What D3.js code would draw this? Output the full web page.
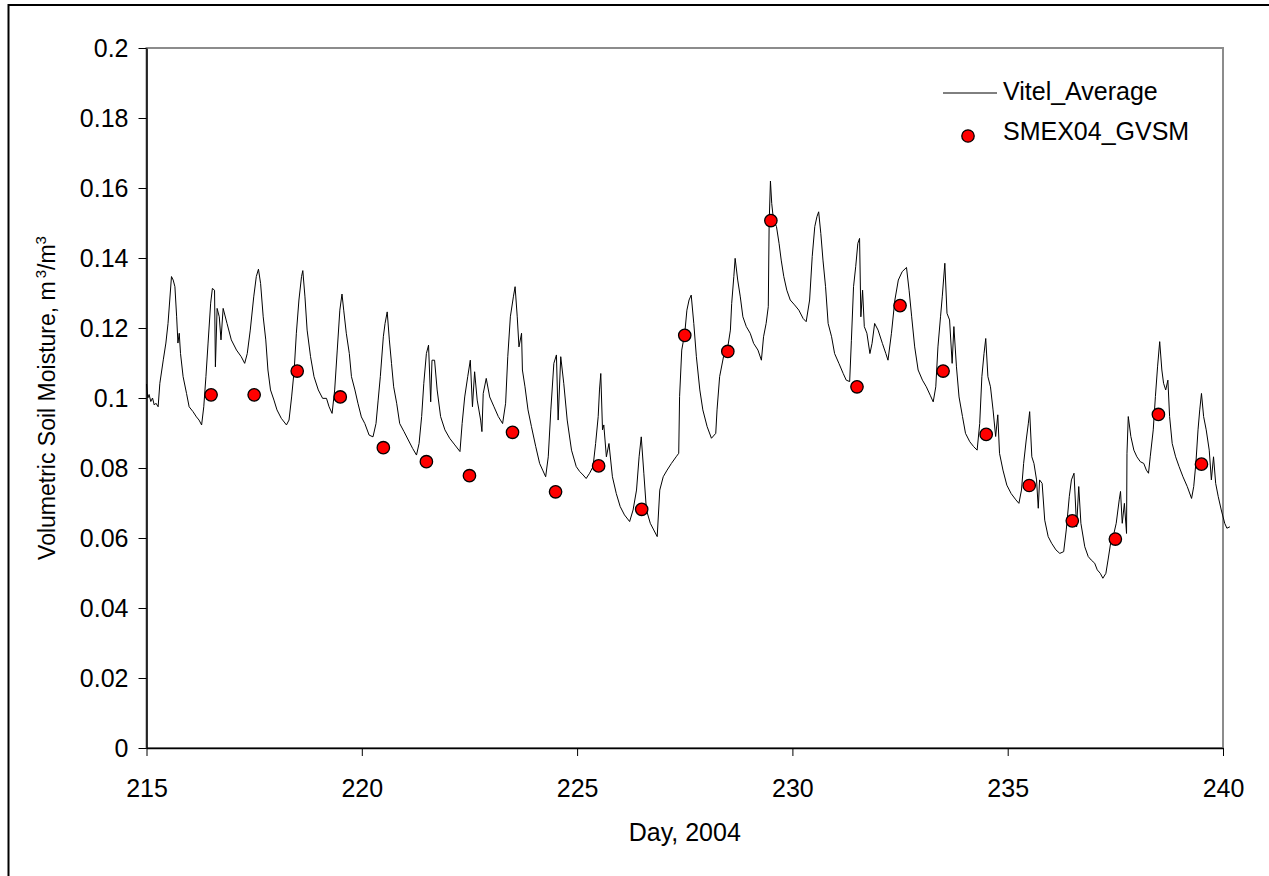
<!DOCTYPE html>
<html>
<head>
<meta charset="utf-8">
<script src="https://cdn.jsdelivr.net/npm/d3@7"></script>
<style>
  body { margin: 0; background: #fff; }
  svg { display: block; font-family: "Liberation Sans", Arial, sans-serif; }
</style>
</head>
<body>
<div id="chart"></div>
<script>
// tick labels
const xTicks = [215, 220, 225, 230, 235, 240];
const yTicks = [0, 0.02, 0.04, 0.06, 0.08, 0.1, 0.12, 0.14, 0.16, 0.18, 0.2];

// Vitel_Average, [day, m3/m3]
const vitelAverage = [
  [215.00,0.1040],[215.03,0.1000],[215.06,0.1010],[215.10,0.0990],[215.14,0.1000],[215.18,0.0980],[215.22,0.0985],[215.27,0.0975],
  [215.31,0.1042],[215.39,0.1109],[215.45,0.1157],[215.50,0.1213],[215.54,0.1280],[215.58,0.1347],[215.62,0.1337],[215.66,0.1318],[215.70,0.1232],[215.73,0.1157],[215.76,0.1185],[215.79,0.1127],[215.85,0.1061],[215.93,0.1013],[215.99,0.0975],[216.08,0.0961],[216.16,0.0946],[216.22,0.0937],[216.28,0.0923],
  [216.33,0.0975],[216.38,0.1061],[216.43,0.1157],[216.49,0.1271],[216.53,0.1313],[216.58,0.1308],[216.60,0.1089],[216.64,0.1256],[216.69,0.1232],[216.73,0.1166],[216.78,0.1256],[216.87,0.1213],[216.97,0.1166],[217.09,0.1137],[217.20,0.1118],[217.28,0.1099],
  [217.34,0.1127],[217.41,0.1194],[217.49,0.1289],[217.55,0.1347],[217.60,0.1368],[217.65,0.1327],[217.71,0.1232],[217.77,0.1166],[217.82,0.1080],[217.88,0.1023],[217.96,0.0994],[218.03,0.0966],[218.13,0.0942],[218.25,0.0923],
  [218.31,0.0937],[218.37,0.1003],[218.43,0.1080],[218.48,0.1185],[218.54,0.1280],[218.60,0.1347],[218.63,0.1364],[218.68,0.1289],[218.73,0.1194],[218.81,0.1118],[218.89,0.1061],[218.99,0.1023],[219.09,0.0999],[219.18,0.0999],[219.24,0.0975],[219.31,0.0956],
  [219.37,0.1023],[219.43,0.1137],[219.49,0.1251],[219.54,0.1297],[219.58,0.1251],[219.64,0.1185],[219.71,0.1127],[219.76,0.1061],[219.84,0.1023],[219.91,0.0985],[219.99,0.0946],[220.07,0.0927],[220.17,0.0894],[220.26,0.0889],
  [220.33,0.0927],[220.38,0.0994],[220.43,0.1061],[220.50,0.1175],[220.54,0.1213],[220.59,0.1246],[220.64,0.1166],[220.69,0.1099],[220.74,0.1032],[220.81,0.0985],[220.88,0.0927],[220.98,0.0904],[221.08,0.0880],[221.18,0.0856],[221.27,0.0837],
  [221.33,0.0870],[221.39,0.0947],[221.44,0.1042],[221.50,0.1127],[221.55,0.1151],[221.60,0.0989],[221.63,0.1108],[221.69,0.1108],[221.75,0.1023],[221.83,0.0947],[221.93,0.0909],[222.04,0.0885],[222.16,0.0866],[222.28,0.0847],
  [222.33,0.0927],[222.39,0.1003],[222.46,0.1061],[222.52,0.1108],[222.57,0.0975],[222.62,0.1075],[222.68,0.0994],[222.76,0.0937],[222.79,0.0904],[222.82,0.1013],[222.89,0.1056],[222.97,0.1003],[223.07,0.0975],[223.17,0.0947],[223.27,0.0927],
  [223.34,0.0985],[223.39,0.1118],[223.45,0.1232],[223.52,0.1289],[223.56,0.1318],[223.61,0.1232],[223.65,0.1146],[223.71,0.1185],[223.73,0.1080],[223.79,0.1032],[223.86,0.0966],[223.94,0.0918],[224.04,0.0861],[224.13,0.0813],[224.20,0.0794],[224.27,0.0775],
  [224.33,0.0832],[224.39,0.0966],[224.46,0.1099],[224.52,0.1123],[224.56,0.0937],[224.62,0.1118],[224.69,0.1042],[224.77,0.0937],[224.87,0.0851],[224.98,0.0804],[225.06,0.0790],[225.14,0.0780],[225.21,0.0770],[225.29,0.0785],[225.37,0.0804],
  [225.43,0.0870],[225.49,0.0947],[225.52,0.1023],[225.55,0.1070],[225.59,0.0909],[225.62,0.0923],[225.68,0.0832],[225.74,0.0870],[225.82,0.0775],[225.91,0.0727],[226.00,0.0690],[226.10,0.0666],[226.22,0.0647],
  [226.30,0.0680],[226.38,0.0737],[226.44,0.0832],[226.49,0.0889],[226.55,0.0785],[226.61,0.0680],[226.70,0.0642],[226.78,0.0623],[226.86,0.0604],
  [226.92,0.0737],[227.00,0.0775],[227.09,0.0794],[227.19,0.0813],[227.30,0.0832],[227.36,0.0842],[227.38,0.1004],[227.43,0.1137],[227.50,0.1185],[227.55,0.1251],[227.60,0.1280],[227.65,0.1294],[227.71,0.1213],[227.77,0.1118],[227.85,0.1023],[227.92,0.0966],[228.02,0.0918],[228.12,0.0885],
  [228.22,0.0899],[228.25,0.0966],[228.31,0.1061],[228.40,0.1118],[228.50,0.1146],[228.56,0.1194],[228.59,0.1270],[228.64,0.1347],[228.67,0.1399],[228.73,0.1337],[228.79,0.1289],[228.85,0.1232],[228.93,0.1204],[229.02,0.1185],[229.10,0.1156],[229.20,0.1137],[229.28,0.1108],
  [229.33,0.1175],[229.39,0.1213],[229.44,0.1261],[229.46,0.1499],[229.49,0.1620],[229.52,0.1556],[229.56,0.1509],[229.63,0.1490],[229.69,0.1442],[229.74,0.1394],[229.80,0.1347],[229.87,0.1308],[229.95,0.1280],[230.05,0.1266],[230.15,0.1251],[230.25,0.1227],[230.32,0.1218],
  [230.40,0.1280],[230.46,0.1404],[230.52,0.1490],[230.57,0.1518],[230.61,0.1532],[230.66,0.1470],[230.71,0.1394],[230.77,0.1318],[230.83,0.1213],[230.91,0.1175],[230.98,0.1127],[231.08,0.1099],[231.18,0.1070],[231.25,0.1051],[231.33,0.1047],
  [231.37,0.1165],[231.42,0.1318],[231.47,0.1375],[231.52,0.1442],[231.56,0.1456],[231.59,0.1232],[231.63,0.1308],[231.67,0.1204],[231.73,0.1185],[231.80,0.1127],[231.85,0.1156],[231.91,0.1213],[231.99,0.1194],[232.09,0.1156],[232.17,0.1127],[232.22,0.1108],
  [232.30,0.1185],[232.38,0.1280],[232.46,0.1337],[232.55,0.1361],[232.65,0.1373],[232.71,0.1308],[232.77,0.1232],[232.84,0.1146],[232.92,0.1080],[233.02,0.1051],[233.11,0.1032],[233.20,0.1008],[233.27,0.0989],
  [233.33,0.1032],[233.38,0.1146],[233.44,0.1232],[233.48,0.1289],[233.54,0.1385],[233.59,0.1242],[233.65,0.1223],[233.71,0.1099],[233.75,0.1204],[233.81,0.1089],[233.87,0.1003],[233.95,0.0947],[234.02,0.0899],[234.12,0.0875],[234.21,0.0861],[234.29,0.0851],
  [234.35,0.0927],[234.40,0.1061],[234.45,0.1127],[234.49,0.1170],[234.54,0.1061],[234.60,0.1032],[234.66,0.0966],[234.72,0.0890],[234.77,0.0952],[234.81,0.0842],[234.89,0.0794],[234.98,0.0751],[235.08,0.0727],[235.19,0.0709],[235.26,0.0699],
  [235.32,0.0737],[235.37,0.0813],[235.43,0.0880],[235.48,0.0928],[235.51,0.0961],[235.56,0.0832],[235.61,0.0813],[235.67,0.0766],[235.71,0.0685],[235.74,0.0766],[235.80,0.0756],[235.86,0.0651],[235.94,0.0604],[236.02,0.0585],[236.12,0.0566],[236.21,0.0556],[236.30,0.0561],
  [236.36,0.0623],[236.43,0.0718],[236.48,0.0766],[236.54,0.0785],[236.60,0.0632],[236.65,0.0747],[236.70,0.0642],[236.79,0.0575],[236.87,0.0547],[236.94,0.0537],[237.02,0.0528],[237.08,0.0509],[237.15,0.0499],[237.21,0.0485],[237.28,0.0499],
  [237.33,0.0537],[237.39,0.0585],[237.45,0.0604],[237.52,0.0642],[237.59,0.0709],[237.62,0.0733],[237.66,0.0642],[237.71,0.0699],[237.76,0.0613],[237.77,0.0842],[237.80,0.0947],[237.86,0.0890],[237.93,0.0851],[238.00,0.0832],[238.08,0.0818],[238.16,0.0813],[238.22,0.0794],[238.27,0.0785],
  [238.31,0.0832],[238.38,0.0909],[238.43,0.1004],[238.48,0.1089],[238.53,0.1161],[238.58,0.1080],[238.62,0.1042],[238.67,0.1023],[238.72,0.1051],[238.76,0.0947],[238.82,0.0870],[238.90,0.0832],[238.98,0.0804],[239.07,0.0775],[239.17,0.0747],[239.27,0.0713],
  [239.32,0.0747],[239.37,0.0813],[239.42,0.0909],[239.46,0.0966],[239.50,0.1013],[239.55,0.0947],[239.61,0.0909],[239.68,0.0851],[239.73,0.0766],[239.78,0.0832],[239.83,0.0756],[239.89,0.0718],[239.96,0.0680],[240.04,0.0642],[240.09,0.0628],[240.16,0.0632]
];

// SMEX04_GVSM samples
const gvsmDays = [216.5, 217.5, 218.5, 219.5, 220.5, 221.5, 222.5, 223.5, 224.5, 225.5, 226.5, 227.5,
                  228.5, 229.5, 231.5, 232.5, 233.5, 234.5, 235.5, 236.5, 237.5, 238.5, 239.5];
const gvsmValues = [0.1009, 0.1009, 0.1077, 0.1003, 0.0858, 0.0818, 0.0778, 0.0902, 0.0732, 0.0806, 0.0682, 0.1179,
                    0.1133, 0.1507, 0.1032, 0.1264, 0.1077, 0.0896, 0.0750, 0.0649, 0.0597, 0.0953, 0.0811];

const width = 1269, height = 876;
const margin = {left: 146.5, right: 1223, top: 48, bottom: 748};
const fontSize = 25;

const svg = d3.select('#chart')
    .append('svg')
    .attr('width', width)
    .attr('height', height);

//outer chart border (right and bottom fall outside the picture)
svg.append('rect')
    .attr('x', 8.5)
    .attr('y', 5)
    .attr('width', 1300)
    .attr('height', 900)
    .style('fill', 'none')
    .style('stroke', '#000')
    .style('stroke-width', 2);

let x = d3.scaleLinear().domain([215, 240]).range([margin.left, margin.right]);
let y = d3.scaleLinear().domain([0, 0.2]).range([margin.bottom, margin.top]);

//plot area frame
svg.append('rect')
    .attr('x', margin.left)
    .attr('y', margin.top)
    .attr('width', margin.right - margin.left)
    .attr('height', margin.bottom - margin.top)
    .style('fill', 'none')
    .style('stroke', '#8c8c8c')
    .style('stroke-width', 2);

//axes
let xAxis = svg.append('g')
    .attr('transform', 'translate(0,' + y(0) + ')')
    .call(d3.axisBottom(x).tickValues(xTicks).tickSize(8).tickSizeOuter(0).tickPadding(23));

let yAxis = svg.append('g')
    .attr('transform', 'translate(' + x(215) + ',0)')
    .call(d3.axisLeft(y).tickValues(yTicks).tickSize(8).tickSizeOuter(0).tickPadding(10)
        .tickFormat(d => String(+d.toFixed(2))));

[xAxis, yAxis].forEach(g => {
    g.select('.domain').style('stroke', '#000').style('stroke-width', 1.5);
    g.selectAll('.tick line').style('stroke', '#000').style('stroke-width', 1);
    g.selectAll('.tick text')
        .style('font-size', fontSize + 'px')
        .style('font-family', '"Liberation Sans", Arial, sans-serif')
        .style('fill', '#000');
});

//Vitel average line
let line = d3.line()
    .x(d => x(d[0]))
    .y(d => y(d[1]));

svg.append('path')
    .datum(vitelAverage)
    .attr('d', line)
    .style('fill', 'none')
    .style('stroke', '#000')
    .style('stroke-width', 1);

//GVSM points
svg.append('g').selectAll('circle')
    .data(gvsmDays)
    .enter()
    .append('circle')
    .attr('cx', d => x(d))
    .attr('cy', (d, i) => y(gvsmValues[i]))
    .attr('r', 6.2)
    .style('fill', '#ff0000')
    .style('stroke', '#000')
    .style('stroke-width', 1.3);

//axis titles
svg.append('text')
    .attr('x', (margin.left + margin.right) / 2)
    .attr('y', 841)
    .attr('text-anchor', 'middle')
    .style('font-size', fontSize + 'px')
    .text('Day, 2004');

let ylab = svg.append('text')
    .attr('transform', 'translate(55,' + (margin.top + margin.bottom) / 2 + ') rotate(-90)')
    .attr('text-anchor', 'middle')
    .style('font-size', '23px');
ylab.append('tspan').text('Volumetric Soil Moisture, m');
ylab.append('tspan').attr('dx', 3).attr('dy', -9).style('font-size', '15px').text('3');
ylab.append('tspan').attr('dy', 9).text('/m');
ylab.append('tspan').attr('dy', -9).style('font-size', '15px').text('3');

//legend
let legend = svg.append('g');
legend.append('line')
    .attr('x1', 943).attr('x2', 997)
    .attr('y1', 93).attr('y2', 93)
    .style('stroke', '#000')
    .style('stroke-width', 1);
legend.append('text')
    .attr('x', 1003).attr('y', 100)
    .style('font-size', fontSize + 'px')
    .text('Vitel_Average');
legend.append('circle')
    .attr('cx', 968).attr('cy', 136)
    .attr('r', 6.2)
    .style('fill', '#ff0000')
    .style('stroke', '#000')
    .style('stroke-width', 1.3);
legend.append('text')
    .attr('x', 1003).attr('y', 140)
    .style('font-size', fontSize + 'px')
    .text('SMEX04_GVSM');
</script>
</body>
</html>
